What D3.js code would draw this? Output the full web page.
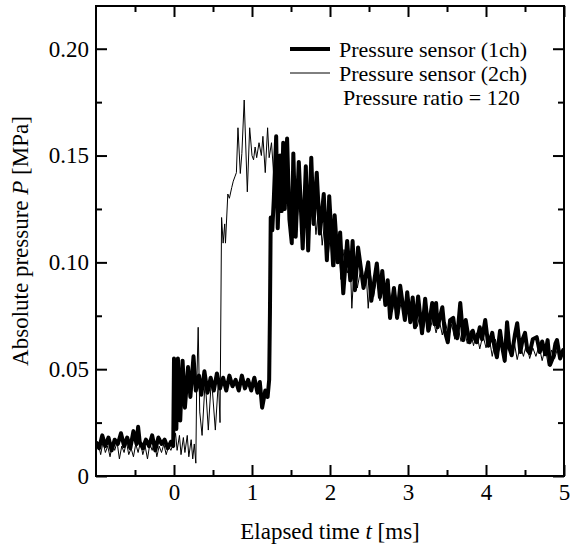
<!DOCTYPE html>
<html>
<head>
<meta charset="utf-8">
<script src="https://cdn.jsdelivr.net/npm/d3@7"></script>
<style>
  body { margin: 0; background: #fff; }
</style>
</head>
<body>
<div id="chart"></div>
<script>
// pressure traces, [time ms, pressure MPa]
const sensor1 = [
  [-1.00, 0.016], [-0.96, 0.013], [-0.92, 0.019], [-0.88, 0.014], [-0.84, 0.018], [-0.80, 0.012],
  [-0.76, 0.017], [-0.72, 0.015], [-0.68, 0.020], [-0.64, 0.014], [-0.60, 0.018], [-0.56, 0.013],
  [-0.52, 0.021], [-0.48, 0.015], [-0.46, 0.023], [-0.44, 0.016], [-0.40, 0.013], [-0.36, 0.017],
  [-0.32, 0.014], [-0.28, 0.019], [-0.24, 0.012], [-0.20, 0.018], [-0.16, 0.015], [-0.12, 0.017],
  [-0.08, 0.013], [-0.04, 0.016], [-0.01, 0.014],
  [0.00, 0.055], [0.03, 0.022], [0.05, 0.055], [0.08, 0.026], [0.11, 0.054], [0.14, 0.032],
  [0.18, 0.051], [0.21, 0.037], [0.25, 0.056], [0.28, 0.040], [0.32, 0.047], [0.35, 0.038],
  [0.39, 0.049], [0.43, 0.039], [0.47, 0.046], [0.51, 0.040], [0.55, 0.048], [0.59, 0.041],
  [0.63, 0.046], [0.67, 0.040], [0.71, 0.047], [0.75, 0.042], [0.79, 0.045], [0.83, 0.040],
  [0.87, 0.047], [0.91, 0.041], [0.95, 0.045], [0.99, 0.040], [1.03, 0.046], [1.07, 0.039],
  [1.10, 0.044], [1.13, 0.032], [1.17, 0.040], [1.20, 0.037], [1.22, 0.045], [1.23, 0.076],
  [1.24, 0.121], [1.26, 0.115], [1.28, 0.130], [1.31, 0.159], [1.33, 0.116], [1.36, 0.150],
  [1.38, 0.124], [1.40, 0.156], [1.42, 0.125], [1.45, 0.158], [1.48, 0.120], [1.51, 0.109],
  [1.53, 0.151], [1.56, 0.112], [1.60, 0.147], [1.65, 0.1065], [1.69, 0.145], [1.72, 0.1056],
  [1.76, 0.149], [1.79, 0.118], [1.83, 0.142], [1.87, 0.1135], [1.92, 0.132], [1.96, 0.101],
  [1.99, 0.131], [2.04, 0.0986], [2.06, 0.122], [2.10, 0.100], [2.13, 0.114], [2.17, 0.0855],
  [2.22, 0.110], [2.26, 0.0916], [2.29, 0.110], [2.32, 0.087], [2.36, 0.107], [2.43, 0.088],
  [2.49, 0.100], [2.53, 0.082], [2.60, 0.0995], [2.64, 0.0836], [2.67, 0.096], [2.71, 0.080],
  [2.74, 0.0916], [2.77, 0.074], [2.82, 0.088], [2.86, 0.074], [2.90, 0.089], [2.96, 0.073],
  [2.99, 0.086], [3.03, 0.072], [3.06, 0.0836], [3.09, 0.0696], [3.13, 0.084], [3.18, 0.0668],
  [3.22, 0.083], [3.26, 0.068], [3.31, 0.081], [3.34, 0.071], [3.36, 0.081], [3.38, 0.0696],
  [3.44, 0.079], [3.47, 0.068], [3.51, 0.0626], [3.54, 0.073], [3.58, 0.074], [3.61, 0.066],
  [3.63, 0.0645], [3.67, 0.081], [3.71, 0.0636], [3.74, 0.073], [3.77, 0.066], [3.79, 0.0626],
  [3.83, 0.068], [3.86, 0.064], [3.88, 0.0626], [3.92, 0.0696], [3.95, 0.064], [3.99, 0.073],
  [4.03, 0.061], [4.08, 0.067], [4.11, 0.060], [4.14, 0.0556], [4.18, 0.068], [4.21, 0.060],
  [4.24, 0.054], [4.27, 0.072], [4.30, 0.060], [4.33, 0.0565], [4.37, 0.066], [4.40, 0.0715],
  [4.44, 0.058], [4.47, 0.064], [4.50, 0.067], [4.53, 0.059], [4.56, 0.0575], [4.60, 0.064],
  [4.65, 0.065], [4.69, 0.058], [4.72, 0.063], [4.76, 0.057], [4.79, 0.0636], [4.82, 0.052],
  [4.86, 0.0556], [4.89, 0.062], [4.91, 0.0636], [4.95, 0.055], [4.99, 0.059], [5.00, 0.057]
];

const sensor2 = [
  [-1.00, 0.012], [-0.97, 0.015], [-0.94, 0.010], [-0.91, 0.016], [-0.88, 0.011], [-0.85, 0.014],
  [-0.82, 0.009], [-0.79, 0.015], [-0.76, 0.012], [-0.73, 0.016], [-0.70, 0.008], [-0.67, 0.014],
  [-0.64, 0.011], [-0.61, 0.016], [-0.58, 0.010], [-0.55, 0.013], [-0.52, 0.009], [-0.49, 0.015],
  [-0.46, 0.011], [-0.43, 0.016], [-0.40, 0.010], [-0.37, 0.014], [-0.34, 0.008], [-0.31, 0.015],
  [-0.28, 0.012], [-0.25, 0.016], [-0.22, 0.009], [-0.19, 0.014], [-0.16, 0.011], [-0.13, 0.015],
  [-0.10, 0.010], [-0.07, 0.014], [-0.04, 0.012], [-0.01, 0.015],
  [0.02, 0.020], [0.04, 0.012], [0.07, 0.019], [0.09, 0.010], [0.12, 0.018], [0.14, 0.011],
  [0.17, 0.019], [0.19, 0.009], [0.22, 0.017], [0.24, 0.008], [0.26, 0.015], [0.28, 0.006],
  [0.29, 0.040], [0.31, 0.0696], [0.33, 0.030], [0.36, 0.019], [0.40, 0.045], [0.44, 0.0215],
  [0.48, 0.046], [0.53, 0.0215], [0.57, 0.045], [0.59, 0.025],
  [0.61, 0.121], [0.63, 0.109], [0.65, 0.118], [0.66, 0.109], [0.69, 0.132], [0.71, 0.130],
  [0.74, 0.135], [0.76, 0.138], [0.78, 0.140], [0.80, 0.142], [0.82, 0.163], [0.85, 0.1416],
  [0.87, 0.151], [0.90, 0.176], [0.94, 0.133], [0.97, 0.163], [1.00, 0.150], [1.02, 0.148],
  [1.04, 0.154], [1.06, 0.149], [1.09, 0.156], [1.12, 0.150], [1.14, 0.159], [1.17, 0.142],
  [1.20, 0.163], [1.22, 0.149], [1.25, 0.156], [1.28, 0.140], [1.31, 0.150],
  [1.34, 0.130], [1.38, 0.145], [1.42, 0.130], [1.46, 0.148], [1.50, 0.125], [1.54, 0.140],
  [1.58, 0.120], [1.62, 0.138], [1.66, 0.118], [1.70, 0.136], [1.74, 0.115], [1.78, 0.132],
  [1.82, 0.113], [1.86, 0.128], [1.90, 0.108], [1.94, 0.122], [1.98, 0.104], [2.02, 0.118],
  [2.06, 0.098], [2.10, 0.112], [2.14, 0.092], [2.18, 0.106], [2.22, 0.095], [2.26, 0.100],
  [2.28, 0.0785], [2.31, 0.098], [2.35, 0.088], [2.39, 0.096], [2.42, 0.090], [2.46, 0.097],
  [2.49, 0.0785], [2.52, 0.094], [2.56, 0.084], [2.60, 0.093], [2.64, 0.082], [2.68, 0.090],
  [2.72, 0.080], [2.76, 0.087], [2.80, 0.077], [2.84, 0.085], [2.88, 0.075], [2.92, 0.083],
  [2.96, 0.073], [3.00, 0.081], [3.04, 0.072], [3.08, 0.079], [3.12, 0.070], [3.16, 0.077],
  [3.20, 0.069], [3.24, 0.076], [3.28, 0.068], [3.32, 0.074], [3.36, 0.067], [3.40, 0.073],
  [3.44, 0.066], [3.48, 0.072], [3.52, 0.065], [3.56, 0.071], [3.60, 0.064], [3.64, 0.070],
  [3.68, 0.063], [3.72, 0.069], [3.76, 0.062], [3.80, 0.068], [3.84, 0.061], [3.88, 0.067],
  [3.92, 0.0595], [3.96, 0.066], [4.00, 0.060], [4.04, 0.065], [4.08, 0.056], [4.12, 0.064],
  [4.16, 0.058], [4.20, 0.063], [4.24, 0.053], [4.28, 0.062], [4.32, 0.057], [4.36, 0.063],
  [4.40, 0.0545], [4.44, 0.061], [4.48, 0.056], [4.52, 0.062], [4.56, 0.055], [4.60, 0.060],
  [4.64, 0.056], [4.68, 0.061], [4.72, 0.054], [4.76, 0.060], [4.80, 0.0515], [4.84, 0.059],
  [4.88, 0.055], [4.92, 0.060], [4.96, 0.056], [5.00, 0.058]
];

const xTicks = [0, 1, 2, 3, 4, 5];
const xMinor = [-0.5, 0.5, 1.5, 2.5, 3.5, 4.5];
const yTicks = [0, 0.05, 0.10, 0.15, 0.20];
const yTickLabels = ["0", "0.05", "0.10", "0.15", "0.20"];
const yMinor = [0.025, 0.075, 0.125, 0.175];
const legendLabels = ["Pressure sensor (1ch)", "Pressure sensor (2ch)"];
const noteText = "Pressure ratio = 120";

const width = 574, height = 549;
const margin = { top: 6, right: 10, bottom: 73, left: 96 };
const serif = "Liberation Serif";

const svg = d3.select("#chart").append("svg")
    .attr("width", width)
    .attr("height", height)
    .attr("font-family", serif);

const x = d3.scaleLinear().domain([-1, 5]).range([margin.left, width - margin.right]);
const y = d3.scaleLinear().domain([0, 0.22]).range([height - margin.bottom, margin.top]);

svg.append("clipPath").attr("id", "plot")
  .append("rect")
    .attr("x", margin.left).attr("y", margin.top)
    .attr("width", x(5) - x(-1)).attr("height", y(0) - y(0.22));

const line = d3.line().x(d => x(d[0])).y(d => y(d[1]));

const traces = svg.append("g").attr("clip-path", "url(#plot)");
traces.append("path").datum(sensor2)
    .attr("d", line).attr("fill", "none")
    .attr("stroke", "#000").attr("stroke-width", 1).attr("stroke-linejoin", "round");
traces.append("path").datum(sensor1)
    .attr("d", line).attr("fill", "none")
    .attr("stroke", "#000").attr("stroke-width", 4).attr("stroke-linejoin", "round");

// axes with inward ticks on all four sides
function styleAxis(g) {
  g.attr("font-family", serif).attr("font-size", 23);
  g.select(".domain").remove();
  g.selectAll("line").attr("stroke", "#000").attr("stroke-width", 2);
  g.selectAll("text").attr("fill", "#000");
}

const yb = y(0), yt = y(0.22), xl = x(-1), xr = x(5);

svg.append("g").attr("transform", `translate(0,${yb})`)
    .call(d3.axisBottom(x).tickValues(xTicks).tickSize(-11).tickPadding(8).tickFormat(d3.format("d")))
    .call(styleAxis);
svg.append("g").attr("transform", `translate(0,${yb})`)
    .call(d3.axisBottom(x).tickValues(xMinor).tickSize(-6).tickFormat(""))
    .call(styleAxis);
svg.append("g").attr("transform", `translate(0,${yt})`)
    .call(d3.axisTop(x).tickValues(xTicks).tickSize(-11).tickFormat(""))
    .call(styleAxis);
svg.append("g").attr("transform", `translate(0,${yt})`)
    .call(d3.axisTop(x).tickValues(xMinor).tickSize(-6).tickFormat(""))
    .call(styleAxis);

svg.append("g").attr("transform", `translate(${xl},0)`)
    .call(d3.axisLeft(y).tickValues(yTicks).tickSize(-11).tickPadding(7).tickFormat((d, i) => yTickLabels[i]))
    .call(styleAxis);
svg.append("g").attr("transform", `translate(${xl},0)`)
    .call(d3.axisLeft(y).tickValues(yMinor).tickSize(-6).tickFormat(""))
    .call(styleAxis);
svg.append("g").attr("transform", `translate(${xr},0)`)
    .call(d3.axisRight(y).tickValues(yTicks).tickSize(-11).tickFormat(""))
    .call(styleAxis);
svg.append("g").attr("transform", `translate(${xr},0)`)
    .call(d3.axisRight(y).tickValues(yMinor).tickSize(-6).tickFormat(""))
    .call(styleAxis);

svg.append("rect")
    .attr("x", xl).attr("y", yt)
    .attr("width", xr - xl).attr("height", yb - yt)
    .attr("fill", "none").attr("stroke", "#000").attr("stroke-width", 2);

// axis titles
const xTitle = svg.append("text")
    .attr("x", (xl + xr) / 2).attr("y", 539)
    .attr("text-anchor", "middle").attr("font-size", 23);
xTitle.append("tspan").text("Elapsed time ");
xTitle.append("tspan").attr("font-style", "italic").text("t");
xTitle.append("tspan").text(" [ms]");

const yTitle = svg.append("text")
    .attr("transform", `translate(28,${(yt + yb) / 2}) rotate(-90)`)
    .attr("text-anchor", "middle").attr("font-size", 23);
yTitle.append("tspan").text("Absolute pressure ");
yTitle.append("tspan").attr("font-style", "italic").text("P");
yTitle.append("tspan").text(" [MPa]");

// legend
const legend = svg.append("g");
[4, 1].forEach((w, i) => {
  const ly = 49 + i * 24;
  legend.append("line")
      .attr("x1", 290).attr("x2", 330).attr("y1", ly).attr("y2", ly)
      .attr("stroke", "#000").attr("stroke-width", w);
  legend.append("text")
      .attr("x", 339).attr("y", ly + 8)
      .attr("font-size", 22).text(legendLabels[i]);
});
legend.append("text")
    .attr("x", 343).attr("y", 105)
    .attr("font-size", 22).text(noteText);
</script>
</body>
</html>
